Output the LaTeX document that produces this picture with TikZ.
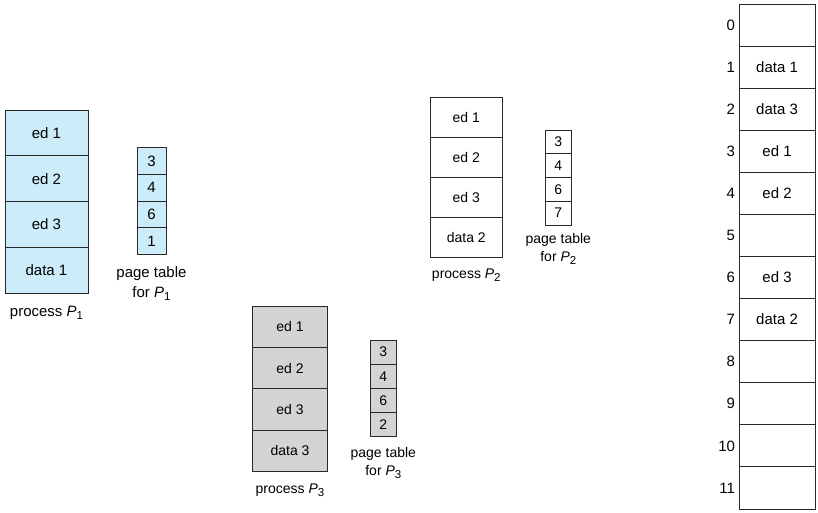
\documentclass[tikz,border=0pt]{standalone}
\usepackage{fontspec}
\setmainfont{Liberation Sans}
\definecolor{pblue}{RGB}{204,236,250}
\definecolor{pgray}{RGB}{212,212,212}
\definecolor{edge}{RGB}{40,40,40}
\newcommand{\Psub}[1]{\textit{P}\raisebox{-0.45ex}{\fontsize{11.5}{12}\selectfont #1}}
\begin{document}
\begin{tikzpicture}[x=1pt,y=-1pt,
  every node/.style={font=\fontsize{14}{18}\selectfont, inner sep=0pt, outer sep=0pt},
  big/.style={font=\fontsize{15}{20}\selectfont},
  cell/.style={draw=edge, line width=0.8pt, rectangle, anchor=center},
  lab/.style={align=center, text=black}]
\useasboundingbox (0,0) rectangle (818,512);
% process P1
\foreach \t [count=\i] in {ed 1,ed 2,ed 3,data 1}
  \node[cell, big, fill=pblue, minimum width=83pt, minimum height=45.83pt] (pa\i) at (46.5,{110+45.83*(\i-0.5)}) {\t};
\node[lab, big] (pal) at (46.5,313) {process \Psub{1}};
% page table P1
\foreach \t [count=\i] in {3,4,6,1}
  \node[cell, big, fill=pblue, minimum width=29pt, minimum height=26.65pt] (ta\i) at (151.5,{147.7+26.65*(\i-0.5)}) {\t};
\node[lab, big] (tal) at (151.5,283.5) {page table\\for \Psub{1}};
% process P2
\foreach \t [count=\i] in {ed 1,ed 2,ed 3,data 2}
  \node[cell, fill=white, minimum width=72.7pt, minimum height=40.1pt] (pb\i) at (466.3,{97.3+40.1*(\i-0.5)}) {\t};
\node[lab] (pbl) at (466.3,275) {process \Psub{2}};
% page table P2
\foreach \t [count=\i] in {3,4,6,7}
  \node[cell, fill=white, minimum width=26.7pt, minimum height=23.75pt] (tb\i) at (558.3,{130+23.75*(\i-0.5)}) {\t};
\node[lab] (tbl) at (558.3,249) {page table\\for \Psub{2}};
% process P3
\foreach \t [count=\i] in {ed 1,ed 2,ed 3,data 3}
  \node[cell, fill=pgray, minimum width=74.6pt, minimum height=41.4pt] (pc\i) at (290,{306+41.4*(\i-0.5)}) {\t};
\node[lab] (pcl) at (290,490) {process \Psub{3}};
% page table P3
\foreach \t [count=\i] in {3,4,6,2}
  \node[cell, fill=pgray, minimum width=26.7pt, minimum height=24.2pt] (tc\i) at (383.3,{340+24.2*(\i-0.5)}) {\t};
\node[lab] (tcl) at (383.3,463) {page table\\for \Psub{3}};
% physical memory
\foreach \t [count=\i from 0] in {{},data 1,data 3,ed 1,ed 2,{},ed 3,data 2,{},{},{},{}} {
  \node[cell, big, fill=white, minimum width=76pt, minimum height=42.08pt] (m\i) at (777,{4+42.08*(\i+0.5)}) {\t};
  \node[big, anchor=east] (ml\i) at ([xshift=-4pt]m\i.west) {\i};
}
\end{tikzpicture}
\end{document}
